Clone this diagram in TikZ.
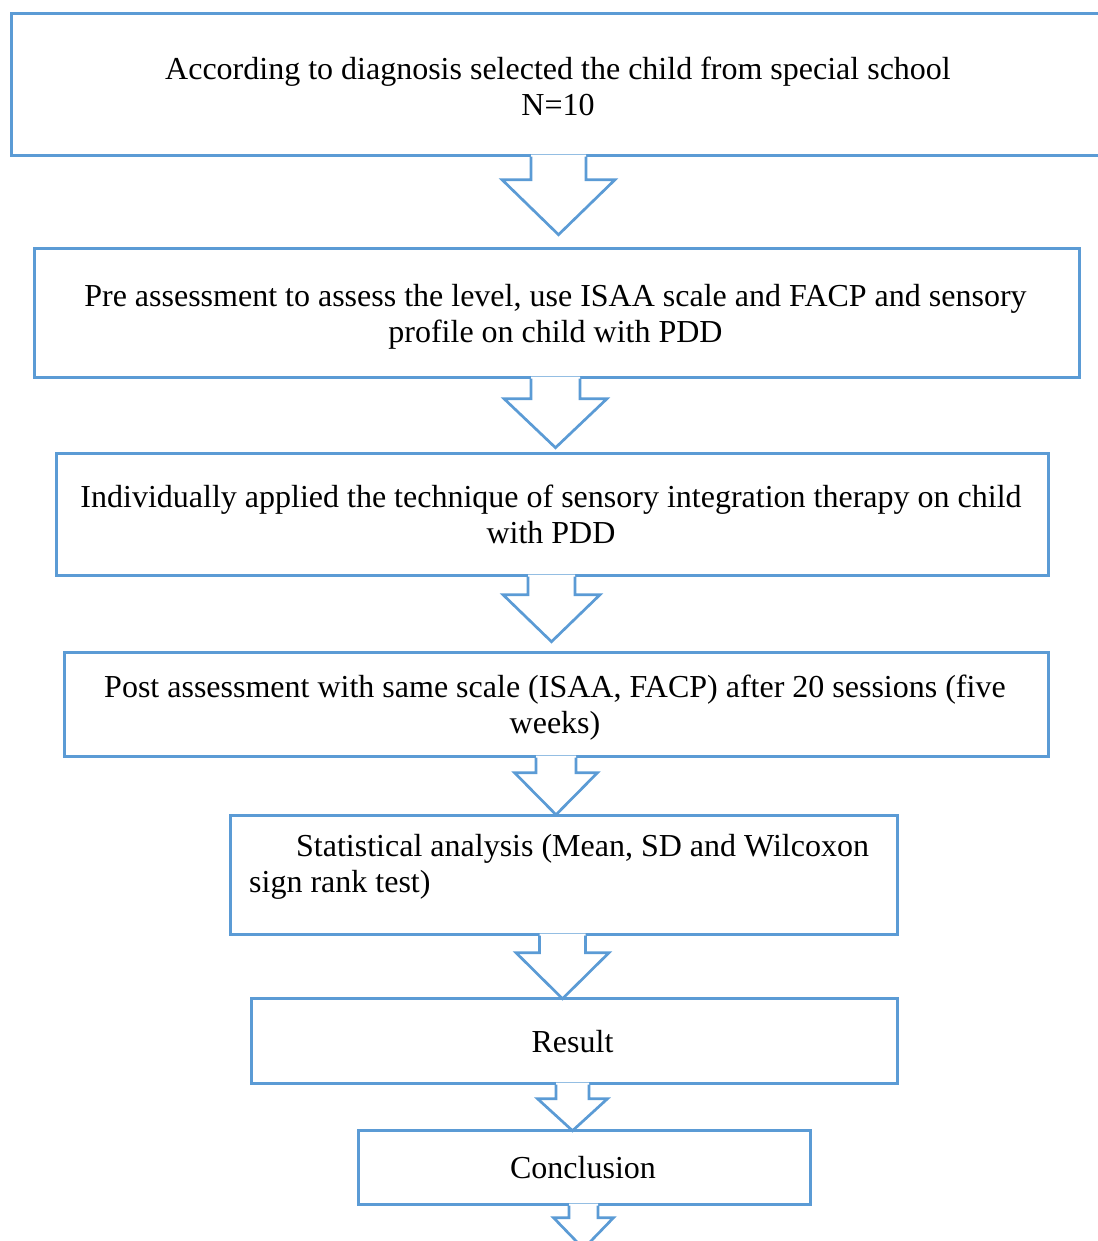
\documentclass[tikz,border=0pt]{standalone}
\usepackage{fontspec}
\setmainfont{Liberation Serif}
\usetikzlibrary{calc}
\definecolor{flowblue}{HTML}{5B9BD5}
\tikzset{
  flow/.style={draw=flowblue, line width=2.7pt, line join=miter},
  box/.style={flow, rectangle, inner sep=0pt, anchor=north west, fill=white},
  lbl/.style={inner sep=0pt, align=center, font=\fontsize{32}{36}\selectfont},
}
% Block arrow hanging below a box: #1 start point on the box edge,
% #2 shaft half width, #3 head half width, #4 shaft length, #5 head length
\newcommand\flowarrow[5]{%
  \path[fill=white] (#1) ++(-#2,-2) -- ++(2*#2,0) -- ++(0,#4+2) -- ++(#3-#2,0)
     -- ++(-#3,#5) -- ++(-#3,-#5) -- ++(#3-#2,0) -- cycle;
  \draw[flow] (#1) ++(-#2,0) -- ++(0,#4) -- ++(#2-#3,0) -- ++(#3,#5)
     -- ++(#3,-#5) -- ++(#2-#3,0) -- ++(0,-#4);
}
\begin{document}
\begin{tikzpicture}[x=1pt,y=-1pt]
\useasboundingbox (0,0) rectangle (1097,1241);

% boxes
\node[box, minimum width=1110, minimum height=142] (b1) at (10,12) {};
\node[box, minimum width=1045, minimum height=129] (b2) at (33,247) {};
\node[box, minimum width=992,  minimum height=122] (b3) at (55,452) {};
\node[box, minimum width=984,  minimum height=104] (b4) at (63,651) {};
\node[box, minimum width=667,  minimum height=119] (b5) at (229,814) {};
\node[box, minimum width=646,  minimum height=85]  (b6) at (250,997) {};
\node[box, minimum width=452,  minimum height=74]  (b7) at (357,1129) {};

% labels
\node[lbl] (t1) at (558,86) {According to diagnosis selected the child from special school\\N=10};
\node[lbl] (t2) at (555.5,317) {Pre assessment to assess the level, use ISAA scale and FACP and sensory\\profile on child with PDD};
\node[lbl] (t3) at (551,514.5) {Individually applied the technique of sensory integration therapy on child\\with PDD};
\node[lbl] (t4) at (555,707.5) {Post assessment with same scale (ISAA, FACP) after 20 sessions (five\\weeks)};
\node[lbl, align=left, anchor=north west] (t5) at (249,834) {\hspace*{47pt}Statistical analysis (Mean, SD and Wilcoxon\\sign rank test)};
\node[lbl] (t6) at (572.5,1042) {Result};
\node[lbl] (t7) at (583,1168) {Conclusion};

% arrow axes
\coordinate (x1) at (558.5,0);
\coordinate (x2) at (555.5,0);
\coordinate (x3) at (551.5,0);
\coordinate (x4) at (556,0);
\coordinate (x5) at (562.5,0);
\coordinate (x6) at (572.5,0);
\coordinate (x7) at (583.5,0);

% arrows between boxes
\flowarrow{b1.south -| x1}{27.5}{56.5}{23}{55}
\flowarrow{b2.south -| x2}{24.5}{51.5}{20}{49}
\flowarrow{b3.south -| x3}{23.5}{48.5}{18}{47}
\flowarrow{b4.south -| x4}{20}{41.5}{15}{42}
\flowarrow{b5.south -| x5}{23}{46.5}{17}{46}
\flowarrow{b6.south -| x6}{16.5}{35}{14}{32}
\flowarrow{b7.south -| x7}{14.5}{30}{12}{31}
\end{tikzpicture}
\end{document}
